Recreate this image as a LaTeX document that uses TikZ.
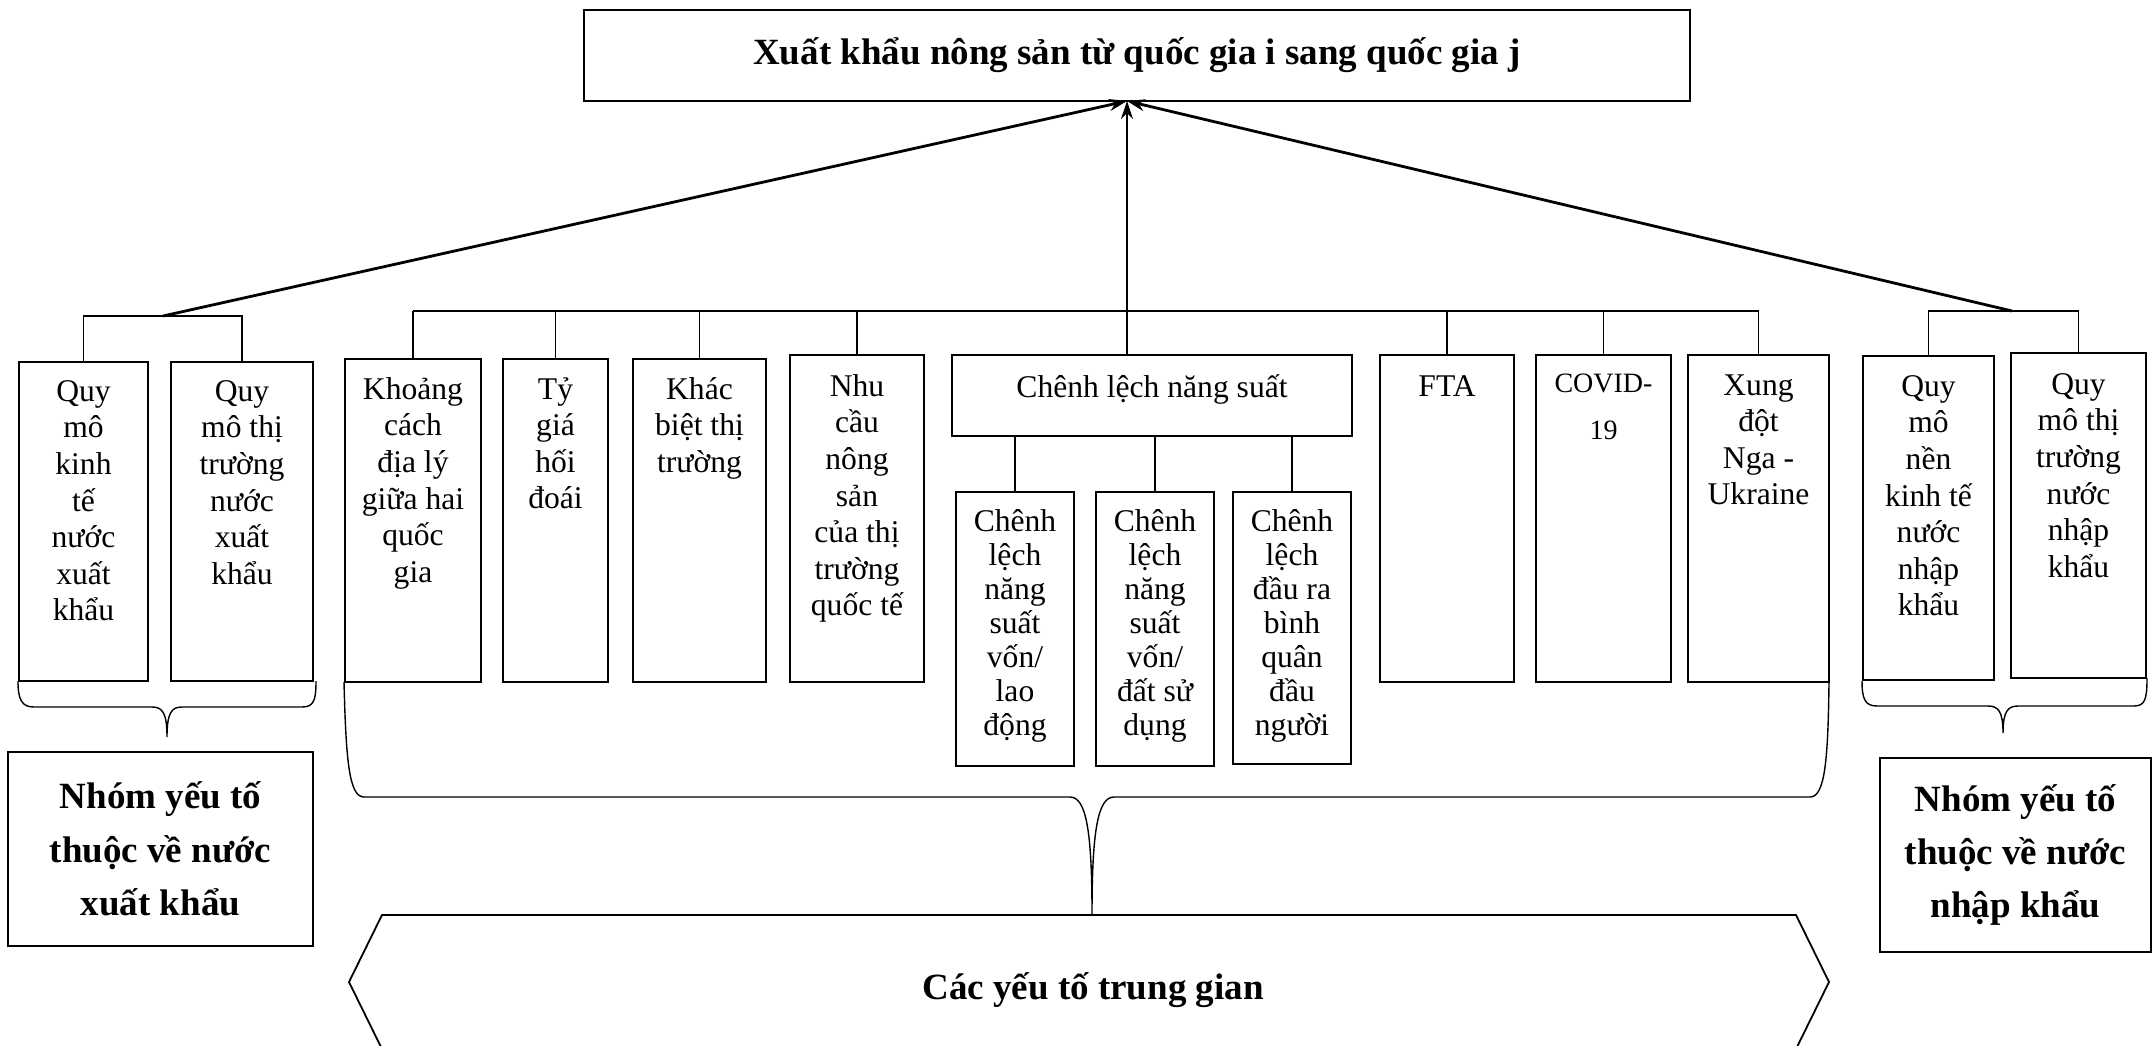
\documentclass[tikz,border=0pt]{standalone}
\usepackage{fontspec}
\setmainfont{Liberation Serif}
\usetikzlibrary{fit,arrows.meta}
\begin{document}
\begin{tikzpicture}[x=0.5pt,y=-0.5pt,
  boxst/.style={draw,line width=1.1pt,inner sep=0pt},
  txt/.style={anchor=north,inner sep=0pt,align=center,font=\fontsize{15.8}{18.3}\selectfont},
  subtxt/.style={txt,font=\fontsize{15.8}{17}\selectfont},
  bigtxt/.style={inner sep=0pt,align=center,font=\bfseries\fontsize{18.5}{26.7}\selectfont},
  conn/.style={line width=0.75pt},
  arr/.style={line width=1.4pt,-{Stealth[length=9pt,width=6pt]}},
  brace/.style={line width=0.7pt}]
\useasboundingbox (0,0) rectangle (2155,1045);

% boxes
\node[boxst, fit={(584,10) (1690,101)}] (top) {};
\node[boxst, fit={(19,362) (148,681)}] (b1) {};
\node[boxst, fit={(171,362) (313,681)}] (b2) {};
\node[boxst, fit={(345,359) (481,682)}] (kc) {};
\node[boxst, fit={(503,359) (608,682)}] (tg) {};
\node[boxst, fit={(633,359) (766,682)}] (kb) {};
\node[boxst, fit={(790,355) (924,682)}] (nc) {};
\node[boxst, fit={(952,355) (1352,436)}] (ch) {};
\node[boxst, fit={(956,492) (1074,766)}] (s1) {};
\node[boxst, fit={(1096,492) (1214,766)}] (s2) {};
\node[boxst, fit={(1233,492) (1351,764)}] (s3) {};
\node[boxst, fit={(1380,355) (1514,682)}] (fta) {};
\node[boxst, fit={(1536,355) (1671,682)}] (cv) {};
\node[boxst, fit={(1688,355) (1829,682)}] (xd) {};
\node[boxst, fit={(1863,356) (1994,680)}] (qn) {};
\node[boxst, fit={(2011,353) (2146,678)}] (qt) {};
\node[boxst, fit={(8,752) (313,946)}] (gl) {};
\node[boxst, fit={(1880,758) (2151,952)}] (gr) {};

% texts
\node[bigtxt] (toptxt) at (top.center) {Xuất khẩu nông sản từ quốc gia i sang quốc gia j};
\node[txt] (b1t) at ([yshift=-9.5pt]b1.north) {Quy\\mô\\kinh\\tế\\nước\\xuất\\khẩu};
\node[txt] (b2t) at ([yshift=-9.5pt]b2.north) {Quy\\mô thị\\trường\\nước\\xuất\\khẩu};
\node[txt] (kct) at ([yshift=-9.5pt]kc.north) {Khoảng\\cách\\địa lý\\giữa hai\\quốc\\gia};
\node[txt] (tgt) at ([yshift=-9.5pt]tg.north) {Tỷ\\giá\\hối\\đoái};
\node[txt] (kbt) at ([yshift=-9.5pt]kb.north) {Khác\\biệt thị\\trường};
\node[txt] (nct) at ([yshift=-10pt]nc.north) {Nhu\\cầu\\nông\\sản\\của thị\\trường\\quốc tế};
\node[txt] (cht) at ([yshift=-10pt]ch.north) {Chênh lệch năng suất};
\node[subtxt] (s1t) at ([yshift=-9pt]s1.north) {Chênh\\lệch\\năng\\suất\\vốn/\\lao\\động};
\node[subtxt] (s2t) at ([yshift=-9pt]s2.north) {Chênh\\lệch\\năng\\suất\\vốn/\\đất sử\\dụng};
\node[subtxt] (s3t) at ([yshift=-9pt]s3.north) {Chênh\\lệch\\đầu ra\\bình\\quân\\đầu\\người};
\node[txt] (ftat) at ([yshift=-10.5pt]fta.north) {FTA};
\node[txt, font=\fontsize{14}{23.5}\selectfont] (cvt) at ([yshift=-10pt]cv.north) {COVID-\\19};
\node[txt] (xdt) at ([yshift=-10pt]xd.north) {Xung\\đột\\Nga -\\Ukraine};
\node[txt] (qnt) at ([yshift=-10pt]qn.north) {Quy\\mô\\nền\\kinh tế\\nước\\nhập\\khẩu};
\node[txt] (qtt) at ([yshift=-10.5pt]qt.north) {Quy\\mô thị\\trường\\nước\\nhập\\khẩu};
\node[bigtxt] (glt) at (gl.center) {Nhóm yếu tố\\thuộc về nước\\xuất khẩu};
\node[bigtxt] (grt) at (gr.center) {Nhóm yếu tố\\thuộc về nước\\nhập khẩu};

% bottom shape
\draw[line width=0.9pt] (382,1049) -- (349,982) -- (382,915) -- (1796,915) -- (1829,982) -- (1796,1049);
\node[bigtxt] (mid) at (1093,990) {Các yếu tố trung gian};

% connectors
\coordinate (tip) at (1127,101);
\coordinate (lbus) at (163,316);
\coordinate (mbus) at (1127,311);
\coordinate (rbus) at (2012,311);
\draw[conn] (b1.north) |- (lbus) -| (b2.north);
\draw[conn] (qn.north) |- (rbus) -| (qt.north);
\draw[arr] (lbus) -- (tip);
\draw[arr] (rbus) -- (tip);
\draw[conn] (kc.north |- mbus) -- (xd.north |- mbus);
\foreach \n in {kc,tg,kb,nc,fta,cv,xd} \draw[conn] (\n.north) -- (\n.north |- mbus);
\draw[arr, line width=1pt] (ch.north -| tip) -- (tip);
\foreach \n in {s1,s2,s3} \draw[conn] (\n.north) -- (\n.north |- ch.south);

% braces
\draw[brace] (18,681) .. controls (18,700) and (22,707) .. (34,707) -- (152,707) .. controls (162,707) and (167,712) .. (167,737) .. controls (167,712) and (172,707) .. (182,707) -- (302,707) .. controls (314,707) and (316,700) .. (316,681);
\draw[brace] (1862,681) .. controls (1862,699) and (1865,706) .. (1877,706) -- (1988,706) .. controls (1998,706) and (2003,711) .. (2003,733) .. controls (2003,711) and (2008,706) .. (2018,706) -- (2134,706) .. controls (2145,706) and (2147,699) .. (2147,678);
\draw[brace] (344,682) .. controls (346,760) and (349,797) .. (364,797) -- (1070,797) .. controls (1086,797) and (1092,830) .. (1092,914) .. controls (1092,830) and (1098,797) .. (1114,797) -- (1810,797) .. controls (1825,797) and (1828,760) .. (1829,682);
\end{tikzpicture}
\end{document}
